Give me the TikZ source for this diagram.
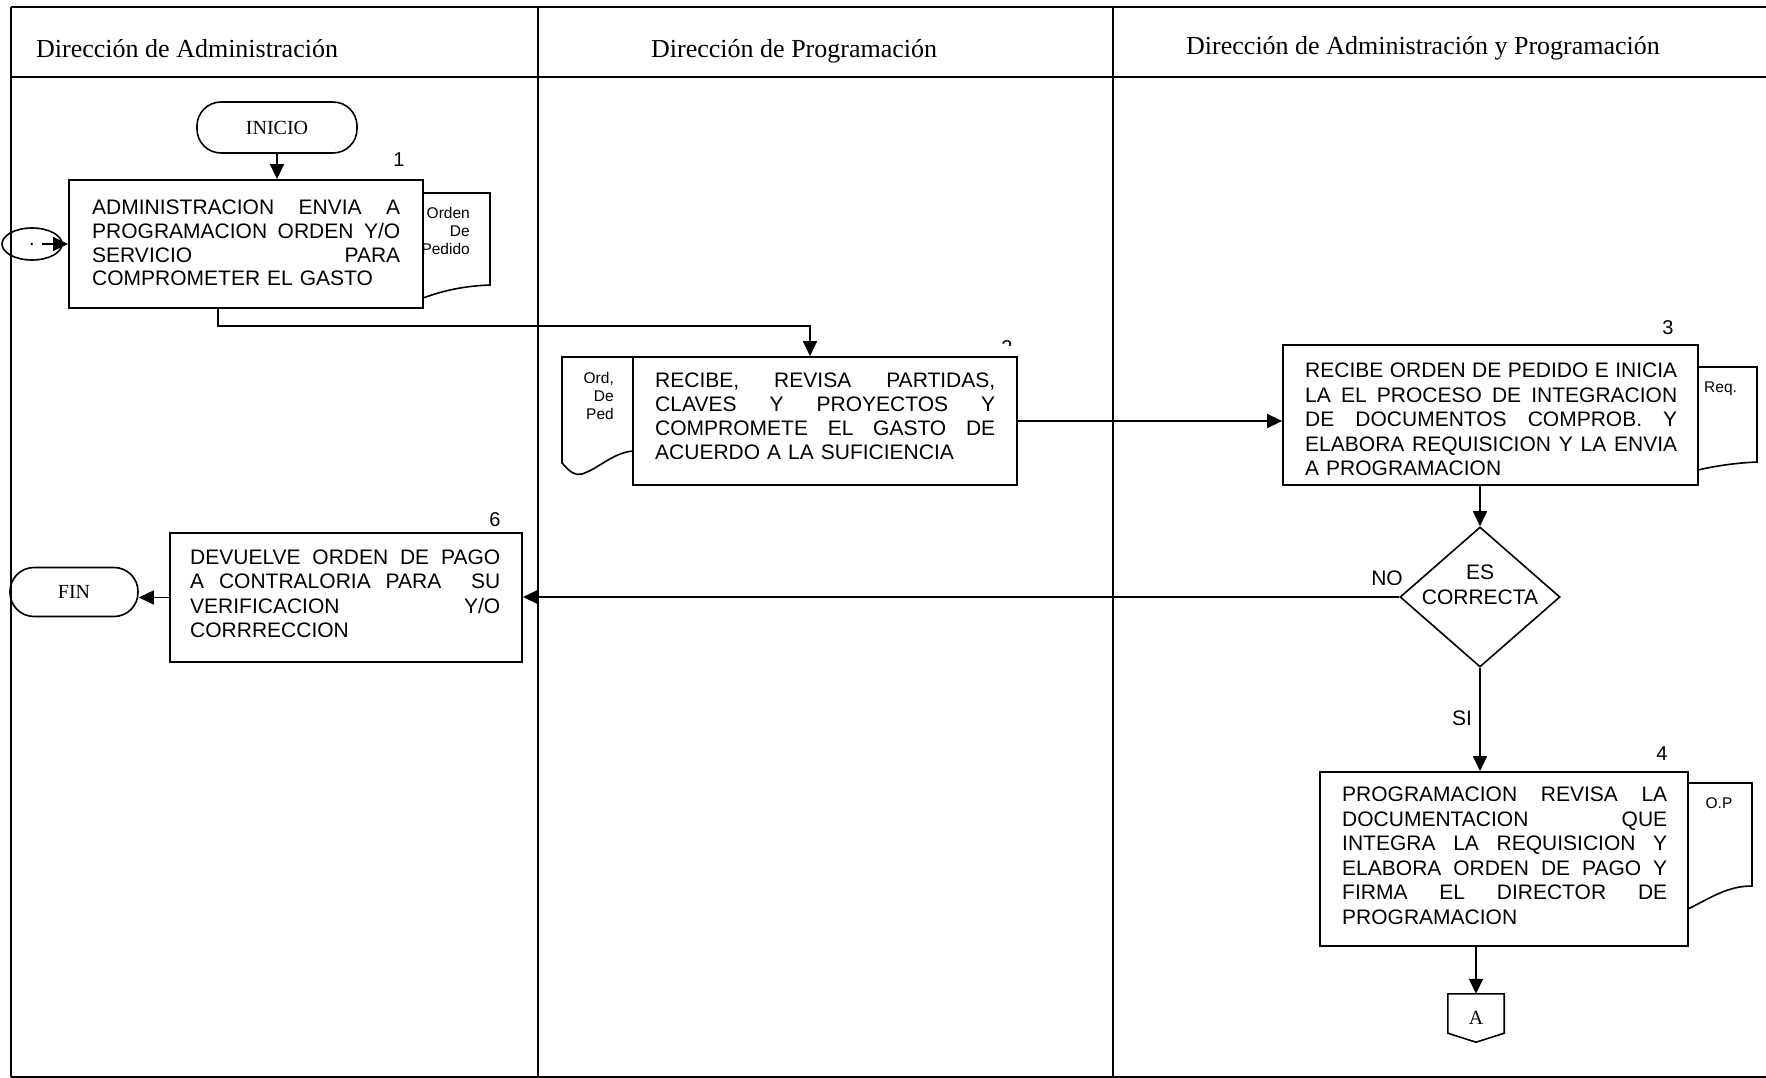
\documentclass[tikz,border=0pt]{standalone}
\usepackage{fontspec}
\setmainfont{Liberation Serif}
\newfontfamily\arialf{Liberation Sans}
\usetikzlibrary{arrows.meta,shapes.geometric,calc}
\newcommand\jl[2]{\leavevmode\hbox to #1pt{#2}}
\begin{document}
\begin{tikzpicture}[x=1pt,y=-1pt,
  frameline/.style={line width=1.6pt},
  procbox/.style={draw, line width=1.8pt, fill=white, rectangle, inner sep=0pt},
  bodytxt/.style={font=\arialf\fontsize{21}{24.5}\selectfont, inner sep=0pt, align=left, anchor=north west},
  termnode/.style={draw, line width=1.6pt, rectangle, rounded corners=24pt, inner sep=0pt, font=\fontsize{20}{24}\selectfont},
  docline/.style={line width=1.6pt},
  doclbl/.style={font=\arialf\fontsize{15.5}{18}\selectfont, inner sep=0pt, align=right},
  numlbl/.style={font=\arialf\fontsize{20}{24}\selectfont, inner sep=0pt},
  conn/.style={line width=1.6pt, -{Triangle[length=15pt,width=14pt]}},
  titlelbl/.style={font=\fontsize{26}{30}\selectfont, inner sep=0pt, anchor=base west},
]
\useasboundingbox (0,0) rectangle (1766,1078);
\fill[white] (0,0) rectangle (1766,1078);

% frame
\draw[frameline] (11,7) -- (1766,7);
\draw[frameline] (11,77) -- (1766,77);
\draw[frameline] (11,1077) -- (1766,1077);
\draw[frameline] (11,7) -- (11,1077);
\draw[frameline] (538,7) -- (538,1077);
\draw[frameline] (1113,7) -- (1113,1077);

\node[titlelbl] (h1) at (36,57.5) {Dirección de Administración};
\node[titlelbl] (h2) at (651,57.5) {Dirección de Programación};
\node[titlelbl] (h3) at (1186,55) {Dirección de Administración y Programación};

% documents (visible parts)
\draw[docline] (423,193) -- (490,193) -- (490,285) .. controls (465,286) and (445,290) .. (423,298);
\draw[docline] (633,357) -- (562,357) -- (562,463) .. controls (570,472) and (575,476) .. (582,474) .. controls (600,468) and (612,453) .. (633,451);
\draw[docline] (1698,367) -- (1757,367) -- (1757,462) .. controls (1735,463) and (1715,466) .. (1698,470);
\draw[docline] (1688,783) -- (1752,783) -- (1752,886) .. controls (1728,886) and (1712,897) .. (1688,909);

\node[doclbl, anchor=north east] (d1l) at (470,207) {Orden\\De\\Pedido};
\node[doclbl, anchor=north east] (d2l) at (614,372.5) {Ord,\\De\\Ped};
\node[doclbl, anchor=north west] (d3l) at (1704,382) {Req.};
\node[doclbl] (d4l) at (1719,803) {O.P};

% terminals
\node[termnode, minimum width=160pt, minimum height=51pt] (ini) at (277,127.5) {INICIO};
\node[termnode, minimum width=128pt, minimum height=49pt] (fin) at (74,592) {FIN};
\node[draw, ellipse, line width=1.6pt, minimum width=60pt, minimum height=32pt, inner sep=0pt, font=\arialf\fontsize{20}{24}\selectfont] (ell) at (32,244) {.};

% process boxes
\node[procbox, minimum width=354pt, minimum height=128pt] (b1) at (246,244) {};
\node[procbox, minimum width=384pt, minimum height=128pt] (b2) at (825,421) {};
\node[procbox, minimum width=415pt, minimum height=140pt] (b3) at (1490.5,415) {};
\node[procbox, minimum width=368pt, minimum height=174pt] (b4) at (1504,859) {};
\node[procbox, minimum width=352pt, minimum height=129pt] (b6) at (346,597.5) {};

\node[bodytxt, text width=308pt, font=\arialf\fontsize{21}{23.6}\selectfont] (t1) at (92,200) {\jl{308}{ADMINISTRACION\hfill ENVIA\hfill A}\\\jl{308}{PROGRAMACION\hfill ORDEN\hfill Y/O}\\\jl{308}{SERVICIO\hfill PARA}\\COMPROMETER EL GASTO};
\node[bodytxt, text width=340pt, font=\arialf\fontsize{21}{24}\selectfont] (t2) at (655,373) {\jl{340}{RECIBE,\hfill REVISA\hfill PARTIDAS,}\\\jl{340}{CLAVES\hfill Y\hfill PROYECTOS\hfill Y}\\\jl{340}{COMPROMETE\hfill EL\hfill GASTO\hfill DE}\\ACUERDO A LA SUFICIENCIA};
\node[bodytxt, text width=372pt] (t3) at (1305,363) {\jl{372}{RECIBE\hfill ORDEN\hfill DE\hfill PEDIDO\hfill E\hfill INICIA}\\\jl{372}{LA\hfill EL\hfill PROCESO\hfill DE\hfill INTEGRACION}\\\jl{372}{DE\hfill DOCUMENTOS\hfill COMPROB.\hfill Y}\\\jl{372}{ELABORA\hfill REQUISICION\hfill Y\hfill LA\hfill ENVIA}\\A PROGRAMACION};
\node[bodytxt, text width=325pt] (t4) at (1342,787) {\jl{325}{PROGRAMACION\hfill REVISA\hfill LA}\\\jl{325}{DOCUMENTACION\hfill QUE}\\\jl{325}{INTEGRA\hfill LA\hfill REQUISICION\hfill Y}\\\jl{325}{ELABORA\hfill ORDEN\hfill DE\hfill PAGO\hfill Y}\\\jl{325}{FIRMA\hfill EL\hfill DIRECTOR\hfill DE}\\PROGRAMACION};
\node[bodytxt, text width=310pt] (t6) at (190,549.5) {\jl{310}{DEVUELVE\hfill ORDEN\hfill DE\hfill PAGO}\\\jl{310}{A\hfill CONTRALORIA\hfill PARA\hfill\hfill SU}\\\jl{310}{VERIFICACION\hfill Y/O}\\CORRRECCION};

% numbers
\node[numlbl] (n1) at (399,160) {1};
\begin{scope}
\clip (985,330) rectangle (1030,345.5);
\node[numlbl] (n2) at (1007,348) {2};
\end{scope}
\node[numlbl] (n3) at (1668,328) {3};
\node[numlbl] (n4) at (1662,754) {4};
\node[numlbl] (n6) at (495,520) {6};

% decision
\node[draw, diamond, line width=1.6pt, minimum width=160pt, minimum height=140pt, inner sep=0pt, fill=white] (d) at (1480,597) {};
\node[font=\arialf\fontsize{21}{25}\selectfont, align=center, inner sep=0pt] (dt) at (1480,584.5) {ES\\CORRECTA};
\node[numlbl, font=\arialf\fontsize{21}{24}\selectfont] (no) at (1387,578) {NO};
\node[numlbl, font=\arialf\fontsize{21}{24}\selectfont] (si) at (1462,718) {SI};

% off-page connector
\node[inner sep=0pt, minimum width=56pt, minimum height=48pt, font=\fontsize{20}{24}\selectfont] (A) at (1476,1018) {A};
\draw[line width=1.6pt] (A.north west) -- (A.north east) -- ([yshift=9pt]A.south east) -- (A.south) -- ([yshift=9pt]A.south west) -- cycle;

% connectors
\draw[conn] (ini.south) -- (ini.south |- b1.north);
\draw[conn] ([xshift=10pt]ell.center) -- (ell.center -| b1.west);
\draw[conn] ([xshift=-28pt]b1.south) -- ++(0,17) -| ([xshift=-15pt]b2.north);
\draw[conn] (b2.east) -- (b2.east -| b3.west);
\draw[conn] (d.north |- b3.south) -- (d.north);
\draw[conn] (d.west) -- (d.west -| b6.east);
\draw[conn] (d.south) -- (d.south |- b4.north);
\draw[conn] (A.north |- b4.south) -- (A.north);
\draw[conn] (b6.west) -- (b6.west -| fin.east);
\end{tikzpicture}
\end{document}
